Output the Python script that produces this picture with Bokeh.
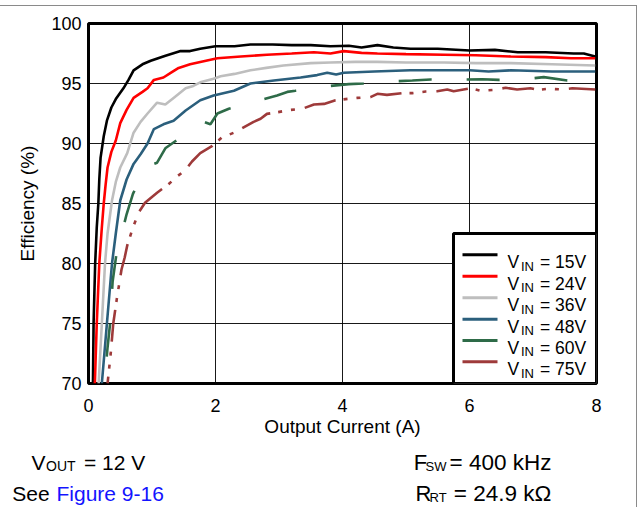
import math
from bokeh.plotting import figure
from bokeh.models import Label, Range1d, FixedTicker
from bokeh.embed import file_html
from bokeh.resources import INLINE

# ---- data ----
vin_labels = ["15V", "24V", "36V", "48V", "60V", "75V"]
colors = ["#000000", "#ff0000", "#bebebe", "#2b5f7c", "#2e6b48", "#9e3a3a"]

x15 = [0.07, 0.08, 0.105, 0.13, 0.155, 0.17, 0.19, 0.24, 0.29, 0.36, 0.43, 0.55, 0.63, 0.71, 0.85, 0.98, 1.2, 1.45, 1.6, 1.76,
       2.0, 2.3, 2.55, 2.9, 3.2, 3.5, 3.81, 4.1, 4.3, 4.55, 4.8, 5.07, 5.5, 6.0, 6.4, 6.76, 7.2, 7.64, 7.8, 7.98]
y15 = [70, 75, 80, 83, 85, 87, 88.8, 90.6, 91.9, 93.0, 93.7, 94.6, 95.3, 96.1, 96.6, 96.9, 97.3, 97.7, 97.7, 97.9,
       98.1, 98.1, 98.25, 98.25, 98.2, 98.2, 98.1, 98.15, 98.0, 98.2, 98.0, 97.9, 97.9, 97.75, 97.8, 97.6, 97.6, 97.5, 97.5, 97.25]

x24 = [0.1, 0.13, 0.17, 0.21, 0.24, 0.27, 0.3, 0.36, 0.43, 0.5, 0.6, 0.71, 0.85, 0.93, 1.03, 1.18, 1.3, 1.42, 1.6, 1.76,
       2.03, 2.4, 2.81, 3.2, 3.55, 3.81, 4.02, 4.3, 4.55, 5.0, 5.6, 6.1, 6.65, 7.2, 7.6, 7.98]
y24 = [70, 75, 80, 83, 85, 86.6, 88.0, 89.3, 90.25, 91.7, 92.8, 93.8, 94.3, 94.6, 95.3, 95.5, 95.9, 96.3, 96.6, 96.8,
       97.1, 97.25, 97.4, 97.5, 97.6, 97.5, 97.7, 97.55, 97.5, 97.45, 97.4, 97.35, 97.25, 97.2, 97.1, 97.1]

x36 = [0.16, 0.21, 0.26, 0.3, 0.37, 0.43, 0.5, 0.61, 0.71, 0.82, 0.93, 1.08, 1.21, 1.34, 1.53, 1.65, 1.76, 1.97, 2.08, 2.3,
       2.55, 2.8, 3.07, 3.5, 3.81, 4.2, 4.55, 5.0, 5.6, 6.1, 6.65, 7.3, 7.98]
y36 = [70, 75, 80, 82.5, 85.25, 86.8, 88.0, 89.2, 90.9, 91.8, 92.5, 93.4, 93.25, 93.8, 94.6, 94.8, 95.1, 95.4, 95.6, 95.8,
       96.1, 96.3, 96.5, 96.7, 96.75, 96.8, 96.8, 96.75, 96.75, 96.7, 96.7, 96.6, 96.5]

x48 = [0.21, 0.29, 0.37, 0.43, 0.5, 0.6, 0.71, 0.82, 0.93, 1.03, 1.18, 1.34, 1.53, 1.76, 1.97, 2.29, 2.55, 2.92, 3.34, 3.6,
       3.76, 3.9, 4.02, 4.5, 5.07, 5.5, 6.0, 6.3, 6.65, 7.3, 7.98]
y48 = [70, 75, 80, 82.5, 85.25, 87.0, 88.3, 89.1, 90.0, 91.2, 91.6, 91.9, 92.75, 93.6, 94.0, 94.4, 95.0, 95.25, 95.5, 95.7,
       95.9, 95.75, 95.9, 96.0, 96.1, 96.1, 96.1, 96.0, 96.1, 96.0, 96.0]

x60 = [0.25, 0.3, 0.34, 0.38, 0.44, 0.5, 0.6, 0.7, 0.82, 0.93, 1.08, 1.21, 1.45, 1.73, 1.82, 1.92, 2.03, 2.21, 2.5, 2.76,
       2.97, 3.13, 3.26, 3.5, 3.81, 4.1, 4.33, 4.6, 4.88, 5.1, 5.39, 5.7, 5.95, 6.2, 6.46, 6.7, 7.01, 7.17, 7.54, 7.98]
y60 = [70, 73, 75, 78.5, 80.8, 82.0, 84.1, 85.8, 87.2, 88.1, 88.4, 89.6, 90.5, 91.2, 91.8, 91.6, 92.5, 92.9, 93.3, 93.7,
       94.0, 94.3, 94.4, 94.6, 94.8, 94.95, 95.0, 95.1, 95.2, 95.25, 95.33, 95.3, 95.33, 95.35, 95.3, 95.35, 95.44, 95.53, 95.25, 95.3]

x75 = [0.3, 0.35, 0.39, 0.45, 0.52, 0.57, 0.61, 0.7, 0.79, 0.89, 1.08, 1.26, 1.38, 1.52, 1.63, 1.76, 1.95, 2.1, 2.31, 2.45,
       2.6, 2.71, 2.81, 2.97, 3.18, 3.37, 3.55, 3.71, 3.89, 4.05, 4.23, 4.44, 4.55, 4.7, 4.94, 5.1, 5.31, 5.49, 5.65, 5.75,
       6.02, 6.17, 6.38, 6.57, 6.75, 6.96, 7.07, 7.25, 7.46, 7.62, 7.98]
y75 = [70, 72.5, 75, 77.2, 79.5, 80.5, 81.5, 83.0, 84.25, 85.06, 85.9, 86.6, 87.2, 87.75, 88.5, 89.2, 89.8, 90.5, 90.94, 91.36,
       91.8, 92.06, 92.47, 92.6, 92.8, 92.9, 93.25, 93.3, 93.6, 93.7, 93.8, 93.86, 94.14, 94.05, 94.2, 94.2, 94.33, 94.36, 94.5, 94.36,
       94.6, 94.4, 94.47, 94.64, 94.5, 94.6, 94.47, 94.56, 94.5, 94.6, 94.5]

x_ticks = [0, 2, 4, 6, 8]
y_ticks = [70, 75, 80, 85, 90, 95, 100]

series_x = [x15, x24, x36, x48, x60, x75]
series_y = [y15, y24, y36, y48, y60, y75]

FONT = "Liberation Sans"
RULE = "#8a8a8a"

# ---- geometry (page pixels; the page body has no margin) ----
TOP0 = 6                              # first pixel below the gray top rule
FL, FT, FW, FH = 88, 23, 508, 360     # chart frame on the page
W = 637
H1 = 435
GAP2 = 5                              # gap the browser leaves between the two roots
TOP2 = TOP0 + H1 + GAP2
H2 = 508 - TOP2 + 4
PX_PER_X = FW / 8.0
PX_PER_Y = FH / 30.0


def fx(px):
    return (px - FL) / PX_PER_X


def fy(py):
    return 100.0 - (py - FT) / PX_PER_Y


# dash phase: make a dash begin where the reference shows one (anchor x)
def dash_offset(xs, ys, x_anchor, period):
    L = 0.0
    for i in range(1, len(xs)):
        dx = (xs[i] - xs[i - 1]) * PX_PER_X
        dy = (ys[i] - ys[i - 1]) * PX_PER_Y
        seg = math.hypot(dx, dy)
        if xs[i] >= x_anchor:
            t = (x_anchor - xs[i - 1]) / (xs[i] - xs[i - 1])
            L += seg * t
            break
        L += seg
    return int(round((-L) % period))


dashes = ["solid", "solid", "solid", "solid", "33 35", "32 8 4 9 4 10"]
dash_offsets = [0, 0, 0, 0, dash_offset(x60, y60, 3.81, 68), dash_offset(x75, y75, 4.44, 67)]

p = figure(width=W, height=H1, x_range=Range1d(0, 8), y_range=Range1d(70, 100),
           output_backend="svg", toolbar_location=None,
           min_border_left=FL, min_border_right=W - FL - FW,
           min_border_top=FT - TOP0, min_border_bottom=H1 - (FT - TOP0) - FH,
           styles={"margin-top": "%dpx" % TOP0,
                   "box-shadow": "0px -1px 0px 0px " + RULE,
                   "border-right": "1px solid " + RULE})
p.background_fill_color = "white"
p.border_fill_color = None
p.outline_line_color = "black"
p.outline_line_width = 3

p.xaxis.ticker = FixedTicker(ticks=x_ticks)
p.yaxis.ticker = FixedTicker(ticks=y_ticks)
p.xgrid.ticker = FixedTicker(ticks=x_ticks)
p.ygrid.ticker = FixedTicker(ticks=y_ticks)
p.grid.grid_line_color = "black"
p.grid.grid_line_width = 1
p.grid.grid_line_alpha = 0.9

for ax in (p.xaxis[0], p.yaxis[0]):
    ax.axis_line_color = None
    ax.major_tick_line_color = None
    ax.minor_tick_line_color = None
    ax.major_tick_out = 0
    ax.major_tick_in = 0
    ax.major_label_text_font = FONT
    ax.major_label_text_font_size = "18px"
    ax.major_label_text_color = "black"
    ax.axis_label_text_font = FONT
    ax.axis_label_text_font_size = "19px"
    ax.axis_label_text_font_style = "normal"
    ax.axis_label_text_color = "black"

p.xaxis.axis_label = "Output Current (A)"
p.yaxis.axis_label = "Efficiency (%)"
p.xaxis.major_label_standoff = 15
p.xaxis.axis_label_standoff = 1
p.yaxis.major_label_standoff = 7
p.yaxis.axis_label_standoff = 10

for xs, ys, c, d, off in zip(series_x, series_y, colors, dashes, dash_offsets):
    p.line(xs, ys, line_color=c, line_width=2.6, line_dash=d, line_dash_offset=off)

# ---- custom legend with subscripts ----
p.quad(left=[fx(453)], right=[8], bottom=[70], top=[fy(233)],
       fill_color="white", line_color="black", line_width=3)
row_py = [254.3, 275.7, 297.3, 318.7, 340.0, 361.3]
for lab, c, ry in zip(vin_labels, colors, row_py):
    p.line([fx(462), fx(497)], [fy(ry), fy(ry)], line_color=c, line_width=3)
    p.add_layout(Label(x=fx(507), y=fy(ry + 7.4), text="V", text_font=FONT,
                       text_font_size="17.5px", text_baseline="alphabetic", text_color="black"))
    p.add_layout(Label(x=fx(520.5), y=fy(ry + 11.2), text="IN", text_font=FONT,
                       text_font_size="13px", text_baseline="alphabetic", text_color="black"))
    p.add_layout(Label(x=fx(539.5), y=fy(ry + 7.4), text="= " + lab, text_font=FONT,
                       text_font_size="17.5px", text_baseline="alphabetic", text_color="black"))

# ---- condition notes under the chart (separate axis-less figure; page-pixel coordinates) ----
p2 = figure(width=W, height=H2, x_range=Range1d(0, W), y_range=Range1d(TOP2 + H2, TOP2),
            output_backend="svg", toolbar_location=None,
            min_border_left=0, min_border_right=0, min_border_top=0, min_border_bottom=0,
            styles={"border-right": "1px solid " + RULE})
p2.axis.visible = False
p2.grid.visible = False
p2.outline_line_color = None
p2.background_fill_color = None
p2.border_fill_color = None

notes = [
    (31, 466.7, "V", "21px", "black"),
    (45.5, 470.7, "OUT", "14px", "black"),
    (83.5, 466.7, "= 12 V", "21px", "black"),
    (11.7, 498.0, "See", "21px", "black"),
    (56, 498.0, "Figure 9-16", "21px", "#1414ff"),
    (413.3, 466.7, "F", "22px", "black"),
    (425, 470.7, "SW", "13px", "black"),
    (449, 466.7, "= 400 kHz", "22.5px", "black"),
    (415, 498.0, "R", "22px", "black"),
    (429, 501.5, "RT", "13px", "black"),
    (453.3, 498.0, "= 24.9 k\u03a9", "22.5px", "black"),
]
for px_, py_, t, fs, col in notes:
    p2.add_layout(Label(x=px_, y=py_, text=t, text_font=FONT, text_font_size=fs,
                        text_baseline="alphabetic", text_color=col))

open("out.html", "w").write(file_html([p, p2], INLINE))
